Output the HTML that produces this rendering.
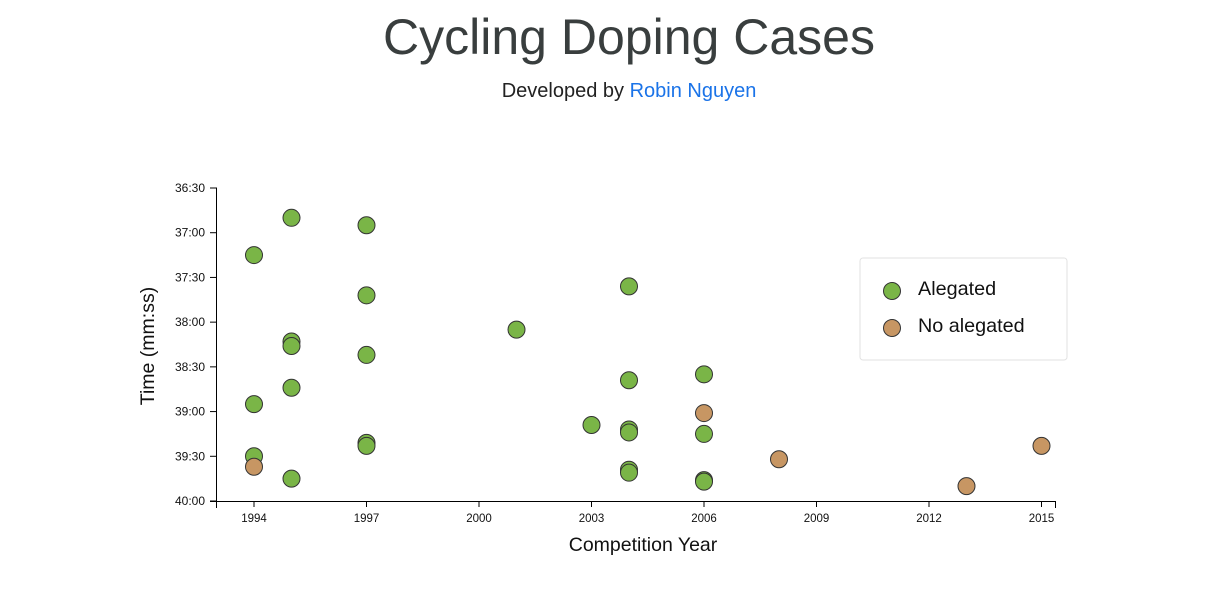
<!DOCTYPE html>
<html><head><meta charset="utf-8"><style>
body{margin:0;width:1224px;height:601px;background:#fff;font-family:"Liberation Sans",Arial,sans-serif;overflow:hidden;position:relative}
h1{position:absolute;top:8px;left:0;width:1258px;text-align:center;margin:0;font-weight:400;font-size:50px;color:#393e3e}
.sub{position:absolute;top:80px;left:0;width:1258px;text-align:center;font-size:20px;color:#222}
.sub a{color:#1a73e8;text-decoration:none}
svg{position:absolute;left:0;top:0}
</style></head><body>
<h1>Cycling Doping Cases</h1>
<div class="sub">Developed by <a>Robin Nguyen</a></div>
<svg id="c" width="1224" height="601"></svg>
<script>
const years=[1994,1994,1994,1994,1995,1995,1995,1995,1995,1997,1997,1997,1997,1997,2001,2003,2004,2004,2004,2004,2004,2004,2006,2006,2006,2006,2006,2008,2013,2015];
const seconds=[2235,2335,2370,2377,2210,2293,2296,2324,2385,2215,2262,2302,2361,2363,2285,2349,2256,2319,2352,2354,2379,2381,2315,2341,2355,2386,2387,2372,2390,2363];
const doping=[1,1,1,0,1,1,1,1,1,1,1,1,1,1,1,1,1,1,1,1,1,1,1,0,1,1,1,0,0,0];
const xTicks=[1994,1997,2000,2003,2006,2009,2012,2015];
const yTicks=[2190,2220,2250,2280,2310,2340,2370,2400];
const NS="http://www.w3.org/2000/svg",svg=document.getElementById('c');
const x=v=>216.5+(v-1993)*37.5, y=s=>188+(s-2190)*1.4905;
function mk(t,a,p){const e=document.createElementNS(NS,t);for(const k in a)e.setAttribute(k,a[k]);(p||svg).appendChild(e);return e;}
const ax=mk('g',{});


mk('path',{d:'M216.5,508V501.5H1055.5V508',stroke:'#000',fill:'none'},ax);
xTicks.forEach(v=>{mk('line',{x1:x(v),x2:x(v),y1:501,y2:507,stroke:'#000'},ax);const t=mk('text',{x:x(v),y:522,'text-anchor':'middle','font-size':11.5,fill:'#111'},ax);t.textContent=v;

});
const ay=mk('g',{});


mk('path',{d:'M210,188H216.5V501.5H210',stroke:'#000',fill:'none'},ay);
yTicks.forEach(s=>{mk('line',{x1:210,x2:216,y1:y(s),y2:y(s),stroke:'#000'},ay);const t=mk('text',{x:205,y:y(s)+4,'text-anchor':'end','font-size':12,fill:'#111'},ay);t.textContent=Math.floor(s/60)+':'+String(s%60).padStart(2,'0');

});
let t=mk('text',{x:643,y:551,'text-anchor':'middle','font-size':19.5,fill:'#111'});t.textContent='Competition Year';


t=mk('text',{x:154,y:346,'text-anchor':'middle','font-size':19.5,fill:'#111',transform:'rotate(-90 154 346)'});t.textContent='Time (mm:ss)';


years.forEach((v,i)=>{const c=mk('circle',{cx:x(v),cy:y(seconds[i]),r:8.5,fill:doping[i]?'#7ab547':'#c79663',stroke:'#333','stroke-width':1});

});
const lg=mk('g',{});


mk('rect',{x:860,y:258,width:207,height:102,rx:3,fill:'#fff',stroke:'#e2e2e2'},lg);
[['Alegated','#7ab547',290],['No alegated','#c79663',327]].forEach(([n,c,cy])=>{mk('circle',{cx:892,cy:cy+1,r:8.5,fill:c,stroke:'#333'},lg);const tt=mk('text',{x:918,y:cy+5,'font-size':19.8,fill:'#111'},lg);tt.textContent=n;

});
</script>
</body></html>
